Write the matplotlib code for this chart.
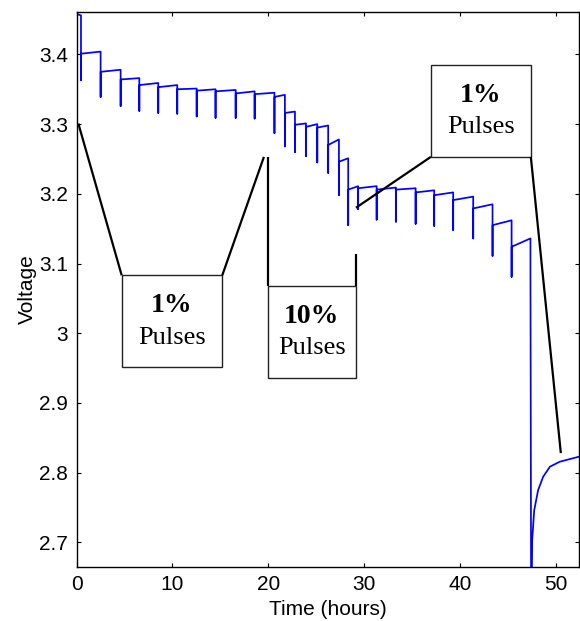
import matplotlib as mpl
mpl.use('Agg')
import matplotlib.pyplot as plt
from matplotlib.patches import Rectangle

# pulse test data (time in hours, voltage in V)
start_t = 0.0
start_v = [3.458, 3.456]

pulse_t = [0.45, 2.50, 4.59, 6.54, 8.52, 10.50, 12.53, 14.50, 16.60, 18.58,
           20.65, 21.74, 22.79, 23.94, 25.12, 26.26, 27.38, 28.35, 29.39,
           31.32, 33.33, 35.39, 37.33, 39.31, 41.40, 43.42, 45.41]
pulse_min = [3.363, 3.339, 3.326, 3.319, 3.316, 3.315, 3.311, 3.309, 3.309, 3.308,
             3.287, 3.268, 3.260, 3.254, 3.245, 3.230, 3.198, 3.155, 3.178,
             3.163, 3.160, 3.157, 3.154, 3.148, 3.136, 3.111, 3.081]
rest_start = [3.401, 3.375, 3.364, 3.356, 3.353, 3.350, 3.348, 3.347, 3.344, 3.343,
              3.339, 3.316, 3.299, 3.296, 3.295, 3.270, 3.246, 3.206, 3.208,
              3.206, 3.206, 3.202, 3.198, 3.191, 3.179, 3.155, 3.124]
rest_end = [3.404, 3.378, 3.366, 3.359, 3.356, 3.351, 3.350, 3.349, 3.347, 3.345,
            3.342, 3.318, 3.301, 3.300, 3.298, 3.278, 3.251, 3.211, 3.211,
            3.209, 3.208, 3.205, 3.202, 3.196, 3.185, 3.162, 3.136]

end_t = [47.38, 47.45]
end_v = [3.088, 2.60]
recov_t = [47.49, 47.56, 47.77, 48.18, 48.70, 49.41, 50.45, 52.43]
recov_v = [2.60, 2.703, 2.746, 2.775, 2.794, 2.8085, 2.8157, 2.8228]

# build the trace
t = [start_t]
v = [start_v[0]]
prev_end = start_v[1]
for i in range(len(pulse_t)):
    t += [pulse_t[i], pulse_t[i], pulse_t[i]]
    v += [prev_end, pulse_min[i], rest_start[i]]
    nxt = pulse_t[i + 1] if i + 1 < len(pulse_t) else end_t[0]
    t.append(nxt)
    v.append(rest_end[i])
    prev_end = rest_end[i]
t += end_t + recov_t
v += end_v + recov_v

sans = 'Liberation Sans'
serif = 'Liberation Serif'

fig = plt.figure(figsize=(5.8, 6.21), dpi=100)
ax = fig.add_axes([0.1322, 0.0874, 0.8658, 0.8938])
ax.plot(t, v, color='#0000ff', lw=1.25, zorder=2)

ax.set_xlim(0, 52.43)
ax.set_ylim(2.665, 3.4613)
ax.set_xticks([0, 10, 20, 30, 40, 50])
ax.set_yticks([2.7, 2.8, 2.9, 3.0, 3.1, 3.2, 3.3, 3.4])
ax.set_yticklabels(['2.7', '2.8', '2.9', '3', '3.1', '3.2', '3.3', '3.4'])
ax.tick_params(direction='in', length=3, width=0.8, top=True, right=True,
               labelsize=15, pad=6)
for lab in ax.get_xticklabels() + ax.get_yticklabels():
    lab.set_family(sans)
for s in ax.spines.values():
    s.set_linewidth(1.0)
ax.set_xlabel('Time (hours)', fontsize=15, family=sans, labelpad=4)
ax.set_ylabel('Voltage', fontsize=15, family=sans, labelpad=2)

# annotation boxes: (t0, t1, v0, v1, top label)
boxes = [(4.70, 15.20, 2.951, 3.083, '1%'),
         (20.00, 29.12, 2.936, 3.068, '10%'),
         (36.98, 47.42, 3.253, 3.385, '1%')]
for x0, x1, y0, y1, lab in boxes:
    ax.add_patch(Rectangle((x0, y0), x1 - x0, y1 - y0, facecolor='white',
                           edgecolor='#222222', lw=1.0, zorder=3))
    xc = (x0 + x1) / 2
    h = y1 - y0
    ax.text(xc, y1 - 0.33 * h, lab, ha='center', va='center', family=serif,
            weight='bold', fontsize=20, zorder=4)
    ax.text(xc, y1 - 0.68 * h, 'Pulses', ha='center', va='center',
            family=serif, fontsize=19, zorder=4)

# connector lines
links = [([0.17, 4.70], [3.301, 3.083]),
         ([15.20, 19.55], [3.083, 3.253]),
         ([20.00, 20.00], [3.068, 3.253]),
         ([29.12, 29.12], [3.068, 3.114]),
         ([29.16, 36.98], [3.180, 3.253]),
         ([47.42, 50.55], [3.253, 2.828])]
for xs, ys in links:
    ax.plot(xs, ys, color='black', lw=1.6, zorder=5, solid_capstyle='butt')

fig.savefig('out.png', dpi=100)
